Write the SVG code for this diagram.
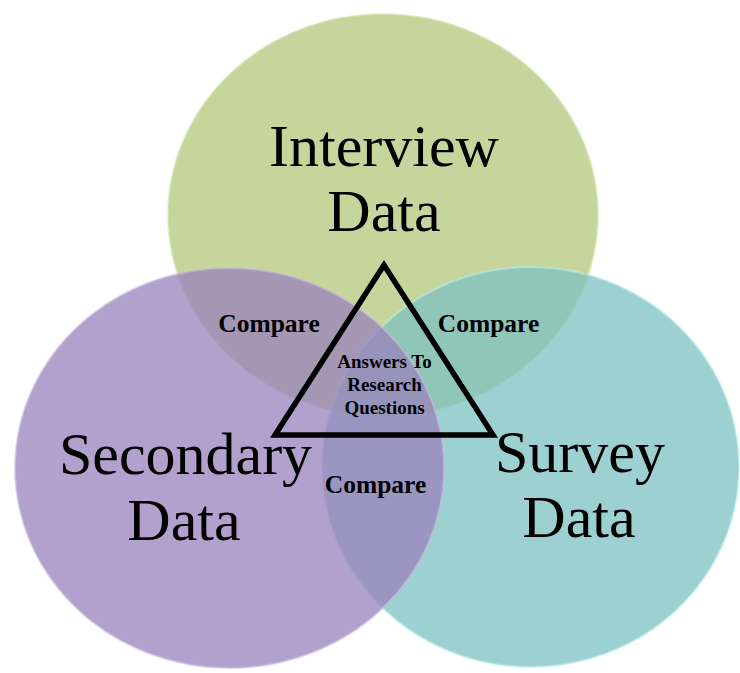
<svg xmlns="http://www.w3.org/2000/svg" width="740" height="673" viewBox="0 0 740 673">
  <style>
    .big { font-family: "Liberation Serif", "Times New Roman", serif; font-size: 60px; fill: #000; text-anchor: middle; }
    .cmp { font-family: "Liberation Serif", "Times New Roman", serif; font-size: 25.5px; font-weight: bold; fill: #000; text-anchor: middle; }
    .ans { font-family: "Liberation Serif", "Times New Roman", serif; font-size: 19px; font-weight: bold; fill: #000; text-anchor: middle; }
    .rim { stroke-width: 2; stroke-opacity: 0.55; }
  </style>
  <rect width="740" height="673" fill="#ffffff"/>
  <g id="interview">
    <ellipse cx="383" cy="215" rx="215" ry="201" fill="#c5d59c" stroke="#d9e6b6" class="rim"/>
  </g>
  <g id="survey">
    <ellipse cx="530.5" cy="467" rx="208.5" ry="200" fill="#7cc0c0" fill-opacity="0.75" stroke="#bfeeee" class="rim"/>
  </g>
  <g id="secondary">
    <ellipse cx="229.5" cy="468" rx="214.5" ry="200" fill="#9a82bc" fill-opacity="0.75" stroke="#cdbde2" class="rim"/>
  </g>
  <g id="labels">
    <text class="big" x="384" y="166">Interview</text>
    <text class="big" x="384" y="231">Data</text>
    <text class="big" x="185.5" y="474">Secondary</text>
    <text class="big" x="184" y="540">Data</text>
    <text class="big" x="580" y="472">Survey</text>
    <text class="big" x="579" y="537">Data</text>
  </g>
  <g id="overlaps">
    <text class="cmp" x="269" y="332">Compare</text>
    <text class="cmp" x="488.5" y="332">Compare</text>
    <text class="cmp" x="375.5" y="493">Compare</text>
  </g>
  <g id="answers">
    <polygon points="384,265 275,435 493,435" fill="none" stroke="#000" stroke-width="5.5" stroke-linejoin="miter"/>
    <text class="ans" x="384.5" y="368">Answers To</text>
    <text class="ans" x="384.5" y="391">Research</text>
    <text class="ans" x="384.5" y="414">Questions</text>
  </g>
</svg>
